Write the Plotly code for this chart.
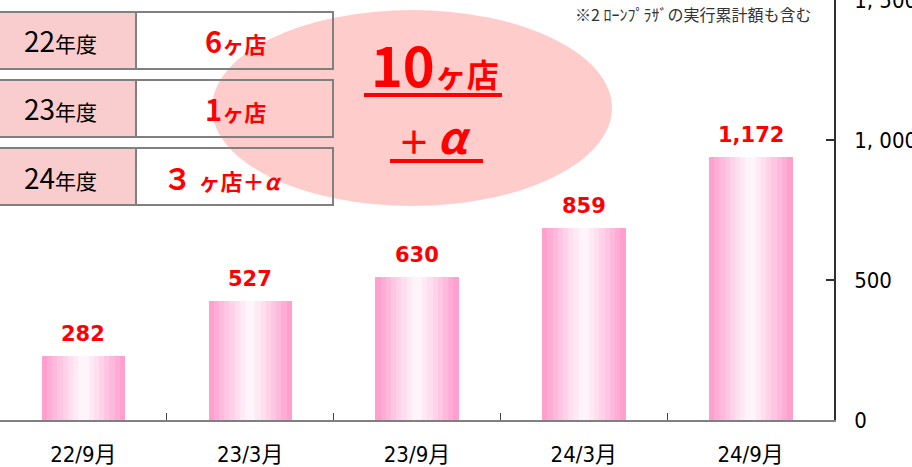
import plotly.graph_objects as go

# ---- data ----
categories = ["22/9月", "23/3月", "23/9月", "24/3月", "24/9月"]
bar_values = [228, 425, 510, 686, 939]          # bar heights read against the axis
label_texts = ["282", "527", "630", "859", "1,172"]  # data labels shown above bars
y_tickvals = [0, 500, 1000, 1500]
y_ticktext = ["0", "500", "1, 000", "1, 500"]
table_years = ["22年度", "23年度", "24年度"]
table_counts = ["6", "1", "３ "]
table_suffix = ["ヶ店", "ヶ店", "ヶ店＋<i>α</i>"]
note_text = "※2 ﾛｰﾝﾌﾟﾗｻﾞの実行累計額も含む"

W, H = 912, 467
PW, PH = 834, 420  # plot area pixel size (left=0, top=0)


def xp(px):
    return px / PW


def yp(py):
    return 1 - py / PH


NARROW = "DejaVu Sans Condensed, Noto Sans CJK JP, sans-serif"
JP = "Noto Sans CJK JP, sans-serif"

fig = go.Figure()

# gradient bars as vertical strips
N = 16
total_w = 0.5
edge = (255, 153, 204)
center = (255, 248, 252)
for i in range(N):
    t = abs((i + 0.5) / N - 0.5) * 2
    f = t ** 1.1
    c = tuple(round(center[k] * (1 - f) + edge[k] * f) for k in range(3))
    fig.add_trace(go.Bar(
        x=categories, y=bar_values,
        offset=-total_w / 2 + i * total_w / N,
        width=total_w / N + 0.002,
        marker=dict(color="rgb(%d,%d,%d)" % c, line=dict(width=0)),
        hoverinfo="skip", showlegend=False,
    ))

shapes = []
# ellipse
shapes.append(dict(type="circle", xref="paper", yref="paper",
                   x0=xp(212), x1=xp(612), y0=yp(206), y1=yp(10),
                   fillcolor="#FFCCCC", line=dict(width=0), layer="above"))
# table
rows = [(12, 69), (80, 137), (148, 205)]
for (t, b) in rows:
    shapes.append(dict(type="rect", xref="paper", yref="paper",
                       x0=xp(-3), x1=xp(136), y0=yp(b), y1=yp(t),
                       fillcolor="#F9CDCD", line=dict(color="#808080", width=2),
                       layer="above"))
    shapes.append(dict(type="rect", xref="paper", yref="paper",
                       x0=xp(136), x1=xp(333), y0=yp(b), y1=yp(t),
                       fillcolor="rgba(0,0,0,0)", line=dict(color="#808080", width=2),
                       layer="above"))
# underlines in ellipse
shapes.append(dict(type="line", xref="paper", yref="paper",
                   x0=xp(364), x1=xp(502), y0=yp(95), y1=yp(95),
                   line=dict(color="#FF0000", width=4), layer="above"))
shapes.append(dict(type="line", xref="paper", yref="paper",
                   x0=xp(390), x1=xp(483), y0=yp(161), y1=yp(161),
                   line=dict(color="#FF0000", width=4), layer="above"))

annotations = []
# data labels
for cat, v, txt in zip(categories, bar_values, label_texts):
    annotations.append(dict(x=cat, y=v, xref="x", yref="y", text="<b>%s</b>" % txt,
                            showarrow=False, yanchor="bottom", yshift=8,
                            font=dict(family="DejaVu Sans, sans-serif", size=21, color="#FF0000")))

# table texts
for (t, b), yr, cnt, suf in zip(rows, table_years, table_counts, table_suffix):
    cy = (t + b) / 2
    yrs = yr[:2] + "<span style='font-size:21px'>" + yr[2:] + "</span>"
    annotations.append(dict(x=xp(60), y=yp(cy), xref="paper", yref="paper",
                            text=yrs, showarrow=False, xanchor="center", yanchor="middle",
                            font=dict(family=JP, size=28, color="#000000")))
    ctext = "<b>" + cnt + "<span style='font-size:22px'>" + suf + "</span></b>"
    annotations.append(dict(x=xp(235 if cnt != "３ " else 222), y=yp(cy), xref="paper", yref="paper",
                            text=ctext, showarrow=False, xanchor="center", yanchor="middle",
                            font=dict(family=JP, size=29, color="#FF0000")))

# ellipse texts
annotations.append(dict(x=xp(435), y=yp(63), xref="paper", yref="paper",
                        text="<b>10<span style='font-size:32px'>ヶ店</span></b>",
                        showarrow=False, xanchor="center", yanchor="middle",
                        font=dict(family=JP, size=54, color="#FF0000")))
annotations.append(dict(x=xp(434), y=yp(135), xref="paper", yref="paper",
                        text="<b>＋ <i><span style='font-size:44px'>α</span></i></b>",
                        showarrow=False, xanchor="center", yanchor="middle",
                        font=dict(family=JP, size=32, color="#FF0000")))
# note
annotations.append(dict(x=xp(813), y=yp(14), xref="paper", yref="paper",
                        text=note_text, showarrow=False, xanchor="right", yanchor="middle",
                        font=dict(family=JP, size=16, color="#333333")))

fig.update_layout(
    width=W, height=H,
    margin=dict(l=0, r=W - PW, t=0, b=H - PH),
    paper_bgcolor="white", plot_bgcolor="white",
    barmode="overlay", bargap=0,
    shapes=shapes, annotations=annotations,
    xaxis=dict(type="category", range=[-0.5, 4.5], showgrid=False, automargin=False,
               showline=True, linecolor="#808080", linewidth=2,
               ticks="inside", tickson="boundaries", ticklen=7, tickcolor="#404040",
               tickwidth=1, ticklabelstandoff=14,
               tickfont=dict(family=NARROW, size=22, color="#000000")),
    yaxis=dict(side="right", range=[0, 1500], showgrid=False, zeroline=False, automargin=False,
               showline=True, linecolor="#303030", linewidth=1.5,
               ticks="inside", ticklen=8, tickcolor="#303030", tickwidth=1.5,
               tickvals=y_tickvals, ticktext=y_ticktext, ticklabelstandoff=14,
               ticklabeloverflow="allow",
               tickfont=dict(family=NARROW, size=22, color="#000000")),
)

fig.write_html("out.html", config={"displayModeBar": False},
               post_script="document.body.style.margin='0';document.body.style.overflow='hidden';")
